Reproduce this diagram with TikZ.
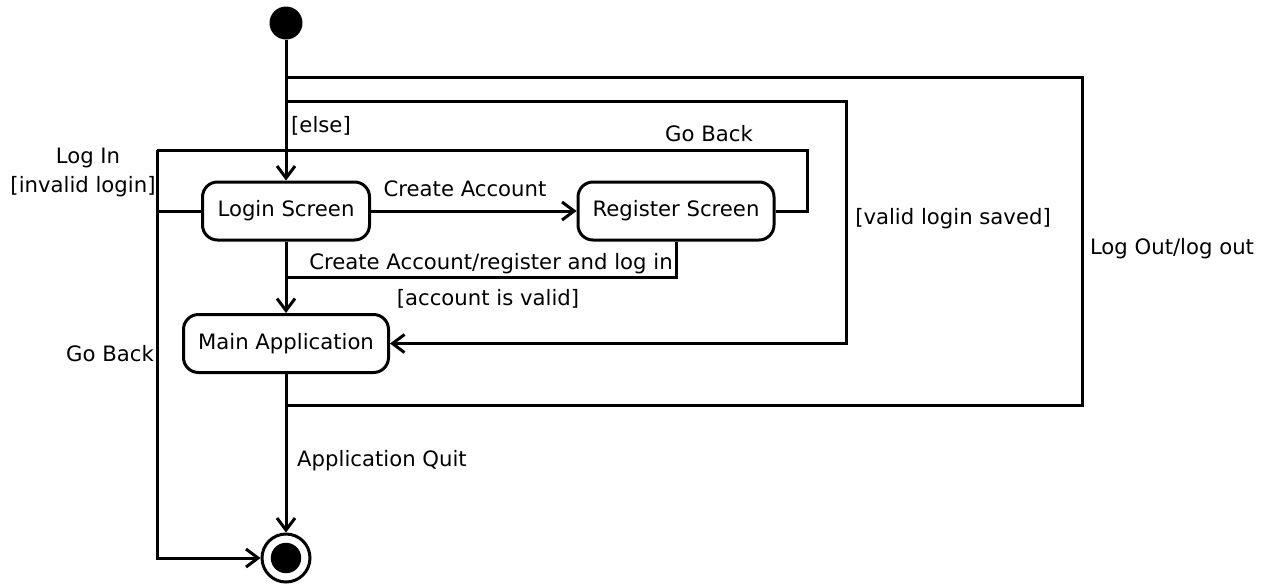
\documentclass[tikz,border=0pt]{standalone}
\usepackage{fontspec}
\setmainfont{DejaVu Sans}
\usetikzlibrary{arrows.meta}
\begin{document}
\begin{tikzpicture}[x=0.5pt,y=-0.5pt,
  txt/.style={font=\fontsize{10.6}{12}\selectfont},
  state/.style={draw, line width=1.5pt, rounded corners=7.5pt, minimum height=29pt,
    inner sep=0pt, fill=white, txt},
  flow/.style={line width=1.5pt, line join=miter, -{Straight Barb[length=6pt,width=9pt,line width=1.5pt]}},
  wire/.style={line width=1.5pt, line join=miter},
  lbl/.style={inner sep=0pt, txt},
]
\useasboundingbox (0,0) rectangle (1267,584);

% states
\node[circle, fill=black, minimum size=16.5pt, inner sep=0pt] (init) at (286,23) {};
\node[state, minimum width=83.5pt] (login) at (286,211) {Login Screen};
\node[state, minimum width=98pt] (register) at (676,211) {Register Screen};
\node[state, minimum width=102.5pt] (main) at (286,343.5) {Main Application};
\node[circle, draw, line width=1.5pt, minimum size=24pt, inner sep=0pt,
  path picture={\fill (path picture bounding box.center) circle (7.6pt);}] (final) at (286,558) {};

% junction points on the vertical spine and the left rail
\coordinate (tapOut) at (286,77);
\coordinate (tapSaved) at (286,101);
\coordinate (tapReg) at (286,277);
\coordinate (tapQuit) at (286,405);
\coordinate (railTop) at (157,150);

% transitions
\draw[flow] (init) -- (login);
\draw[wire] (tapQuit) -| (1082,77) -- (tapOut);
\draw[flow] (tapSaved) -| (846,343.5) -- (main.east);
\draw[flow] (login) -- (register);
\draw[wire] (register.east) -| (807,150) -- (railTop);
\draw[flow] (railTop) |- (final.west);
\draw[wire] (login.west) -- (login.west -| railTop);
\draw[flow] (login) -- (main);
\draw[wire] (register.south) |- (tapReg);
\draw[flow] (main) -- (final);

% labels
\node[lbl] (lElse) at (321,126) {[else]};
\node[lbl] (lLogIn) at (88,158) {Log In};
\node[lbl] (lInvalid) at (83,187) {[invalid login]};
\node[lbl] (lBackTop) at (709,134) {Go Back};
\node[lbl] (lCreate) at (465,189) {Create Account};
\node[lbl] (lSaved) at (953,219) {[valid login saved]};
\node[lbl] (lLogOut) at (1172,249) {Log Out/log out};
\node[lbl] (lRegister) at (491,264) {Create Account/register and log in};
\node[lbl] (lValid) at (488,299) {[account is valid]};
\node[lbl] (lBackLeft) at (110,354) {Go Back};
\node[lbl] (lQuit) at (382,461) {Application Quit};
\end{tikzpicture}
\end{document}
